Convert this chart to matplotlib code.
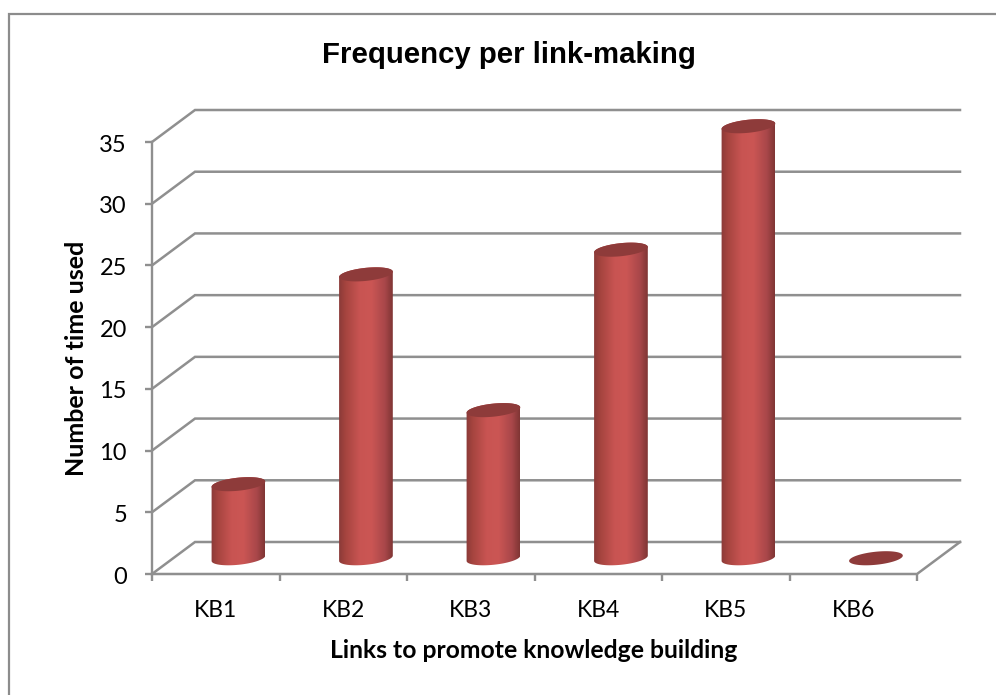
import numpy as np
import matplotlib
matplotlib.use("Agg")
import matplotlib.pyplot as plt
from matplotlib.colors import LinearSegmentedColormap
from matplotlib.lines import Line2D
from matplotlib.patches import Polygon
from matplotlib.transforms import ScaledTranslation

categories = ["KB1", "KB2", "KB3", "KB4", "KB5", "KB6"]
values = [6, 23, 12, 25, 35, 0]
y_ticks = [0, 5, 10, 15, 20, 25, 30, 35]

W, H = 996, 695
AX_LEFT, AX_RIGHT = 152, 917
AX_BOTTOM, AX_TOP = 574, 142

PX_X = (AX_RIGHT - AX_LEFT) / len(categories)
PX_Y = (AX_BOTTOM - AX_TOP) / 35

# oblique offset of the back wall, in axis units
DEPTH_X = 43 / PX_X
DEPTH_Y = 32 / PX_Y

GRID = "#8f8f8f"
TOP_RED = "#8e3b3a"
shade = LinearSegmentedColormap.from_list(
    "cyl",
    [(0.0, "#8a3a38"), (0.12, "#a5443f"), (0.38, "#c85452"), (0.6, "#cb5654"),
     (0.85, "#a9474a"), (1.0, "#7f3534")],
)


def ellipse_xy(cx, cy, t):
    # tilted ellipse worked out in pixels, returned in axis units
    a, b, tilt = 27.0, 6.5, np.radians(6)
    px = a * np.cos(t) * np.cos(tilt) - b * np.sin(t) * np.sin(tilt)
    py = a * np.cos(t) * np.sin(tilt) + b * np.sin(t) * np.cos(tilt)
    return cx + px / PX_X, cy + py / PX_Y


fig = plt.figure(figsize=(W / 100, H / 100), dpi=100)
ax = fig.add_axes([AX_LEFT / W, 1 - AX_BOTTOM / H,
                   (AX_RIGHT - AX_LEFT) / W, (AX_BOTTOM - AX_TOP) / H])
ax.patch.set_visible(False)
for side in ["top", "right", "bottom"]:
    ax.spines[side].set_visible(False)
ax.spines["left"].set_color(GRID)
ax.spines["left"].set_linewidth(1.7)

# frame lines along the top and left of the figure
fig.add_artist(Line2D([9 / W, 9 / W, 1], [0, 1 - 14 / H, 1 - 14 / H], transform=fig.transFigure,
                      color="#8c8c8c", lw=1.6, solid_joinstyle="miter"))

# side wall, back wall and floor lines
for v in y_ticks:
    ax.plot([0, DEPTH_X, len(categories) + DEPTH_X], [v, v + DEPTH_Y, v + DEPTH_Y],
            color=GRID, lw=1.8, clip_on=False, zorder=1, solid_joinstyle="miter")
ax.plot([0, len(categories), len(categories) + DEPTH_X], [0, 0, DEPTH_Y],
        color=GRID, lw=1.8, clip_on=False, zorder=1.5, solid_joinstyle="miter")

t_full = np.linspace(0, 2 * np.pi, 120)
t_front = np.linspace(np.pi, 2 * np.pi, 60)
t_back = np.linspace(0, np.pi, 60)
gradient = np.linspace(0, 1, 256).reshape(1, -1)

for i, val in enumerate(values):
    cx = i + 0.5 + DEPTH_X / 2 + 1.2 / PX_X
    base = DEPTH_Y / 2 - 0.02
    top = base + val
    half = 27.0 / PX_X
    if val > 0:
        bx, by = ellipse_xy(cx, base, t_front)
        tx, ty = ellipse_xy(cx, top, t_back)
        outline = np.column_stack([np.r_[bx, tx], np.r_[by, ty]])
        body = Polygon(outline, closed=True, transform=ax.transData, fill=False, edgecolor="none")
        ax.add_patch(body)
        im = ax.imshow(gradient, cmap=shade, aspect="auto", zorder=3, vmin=0, vmax=1,
                       extent=[cx - half, cx + half, base - 1, top + 1])
        # the tallest cylinder rises past the axis limit
        im.set_clip_box(fig.bbox)
        im.set_clip_path(body)
        body.set_clip_on(False)
    ex, ey = ellipse_xy(cx, top, t_full)
    ax.fill(ex, ey, color=TOP_RED, lw=0, zorder=4, clip_on=False)

ax.set_xlim(0, len(categories))
ax.set_ylim(0, 35)

ax.set_xticks(np.arange(len(categories) + 1))
ax.set_xticklabels([])
ax.set_xticks(np.arange(len(categories)) + 0.5, minor=True)
ax.set_xticklabels(categories, minor=True, fontsize=16.5, family="Lato", color="black")
ax.tick_params(axis="x", which="major", length=5, width=1.7, color=GRID)
ax.tick_params(axis="x", which="minor", length=0, pad=19)

ax.set_yticks(y_ticks)
ax.set_yticklabels(y_ticks, fontsize=17, family="Lato", color="black", va="center")
ax.tick_params(axis="y", length=5, width=1.7, color=GRID, pad=13)
# numbers sit slightly below their ticks
nudge = ScaledTranslation(0, -3 / 100, fig.dpi_scale_trans)
for label in ax.get_yticklabels():
    label.set_transform(label.get_transform() + nudge)

fig.text(509 / W, 1 - 55 / H, "Frequency per link-making", ha="center", va="center",
         fontsize=21.2, fontweight="bold", family="Liberation Sans")
fig.text(534 / W, 1 - 650 / H, "Links to promote knowledge building", ha="center", va="center",
         fontsize=17.8, fontweight="bold", family="Lato")
fig.text(77 / W, 1 - 358 / H, "Number of time used", ha="center", va="center", rotation=90,
         fontsize=18, fontweight="bold", family="Lato")

fig.savefig("out.png", dpi=100, facecolor="white")
